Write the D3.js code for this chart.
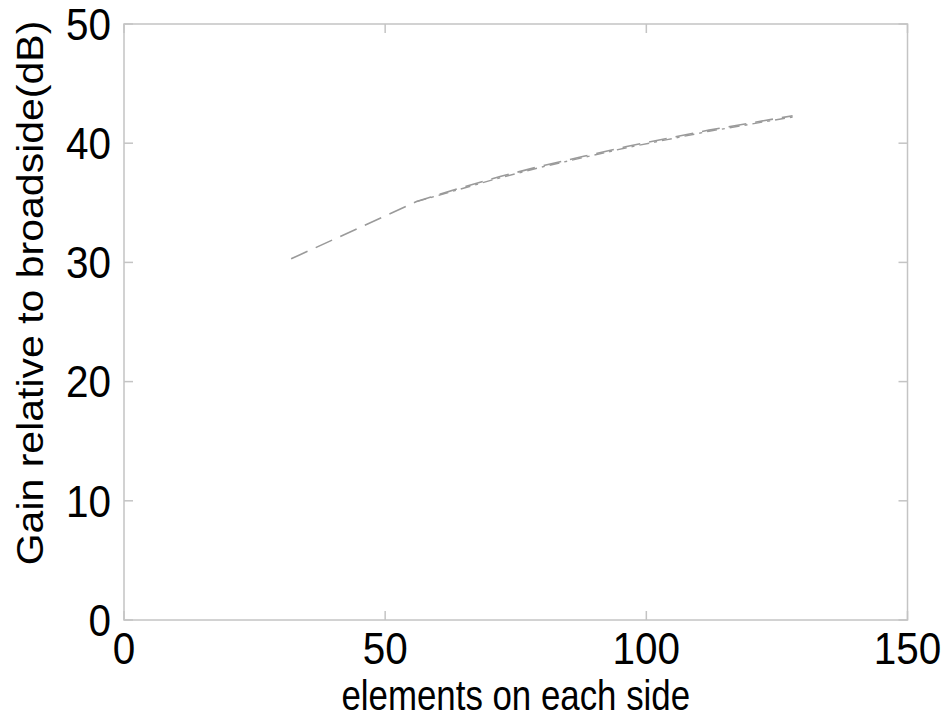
<!DOCTYPE html>
<html><head><meta charset="utf-8">
<script src="https://cdn.jsdelivr.net/npm/d3@7"></script>
<style>body{margin:0;background:#fff}svg{display:block}text{font-family:"Liberation Sans",Arial,sans-serif;fill:#000}</style>
</head><body><svg id="c" width="952" height="721"></svg>
<script>
const xTicks = [0, 50, 100, 150];
const yTicks = [0, 10, 20, 30, 40, 50];
const xA = [32, 56, 64, 72, 80, 88, 96, 104, 112, 120, 128];
const yA = [30.3, 35.1, 36.2, 37.2, 38.1, 38.9, 39.7, 40.4, 41.1, 41.7, 42.3];
const xB = [56, 64, 72, 80, 88, 96, 104, 112, 120, 128];
const yB = [35.1, 36.1, 37.1, 38.0, 38.8, 39.6, 40.3, 41.0, 41.6, 42.2];

const L = 124, R = 907.5, T = 24, B = 620;
const svg = d3.select("#c");
const x = d3.scaleLinear().domain([0, 150]).range([L, R]);
const y = d3.scaleLinear().domain([0, 50]).range([B, T]);
const gc = "#c4c4c4";
const sx = 0.92;

svg.append("rect").attr("x", L).attr("y", T).attr("width", R - L).attr("height", B - T)
  .attr("fill", "none").attr("stroke", gc).attr("stroke-width", 1.5);

const tl = 9;
xTicks.forEach(t => {
  svg.append("line").attr("x1", x(t)).attr("x2", x(t)).attr("y1", B).attr("y2", B - tl).attr("stroke", gc).attr("stroke-width", 1.5);
  svg.append("line").attr("x1", x(t)).attr("x2", x(t)).attr("y1", T).attr("y2", T + tl).attr("stroke", gc).attr("stroke-width", 1.5);
  svg.append("text").attr("transform", `translate(${x(t)},664) scale(${sx},1)`).attr("text-anchor", "middle").attr("font-size", 44).text(t);
});
yTicks.forEach(t => {
  svg.append("line").attr("x1", L).attr("x2", L + tl).attr("y1", y(t)).attr("y2", y(t)).attr("stroke", gc).attr("stroke-width", 1.5);
  svg.append("line").attr("x1", R).attr("x2", R - tl).attr("y1", y(t)).attr("y2", y(t)).attr("stroke", gc).attr("stroke-width", 1.5);
  svg.append("text").attr("transform", `translate(111,${y(t)}) scale(${sx},1)`).attr("dy", "0.36em").attr("text-anchor", "end").attr("font-size", 44).text(t);
});

const line = d3.line().x(d => x(d[0])).y(d => y(d[1]));
svg.append("path").datum(xA.map((v, i) => [v, yA[i]])).attr("d", line)
  .attr("fill", "none").attr("stroke", "#9a9a9a").attr("stroke-width", 1.6).attr("stroke-dasharray", "18,9");
svg.append("path").datum(xB.map((v, i) => [v, yB[i]])).attr("d", line)
  .attr("fill", "none").attr("stroke", "#9a9a9a").attr("stroke-width", 1.4).attr("stroke-dasharray", "10,5,3,5");

svg.append("text").attr("transform", `translate(${x(75)},710) scale(0.83,1)`).attr("text-anchor", "middle").attr("font-size", 42).text("elements on each side");
svg.append("text").attr("transform", `translate(43,293) rotate(-90) scale(1,0.9)`).attr("text-anchor", "middle").attr("font-size", 41).text("Gain relative to broadside(dB)");
</script></body></html>
